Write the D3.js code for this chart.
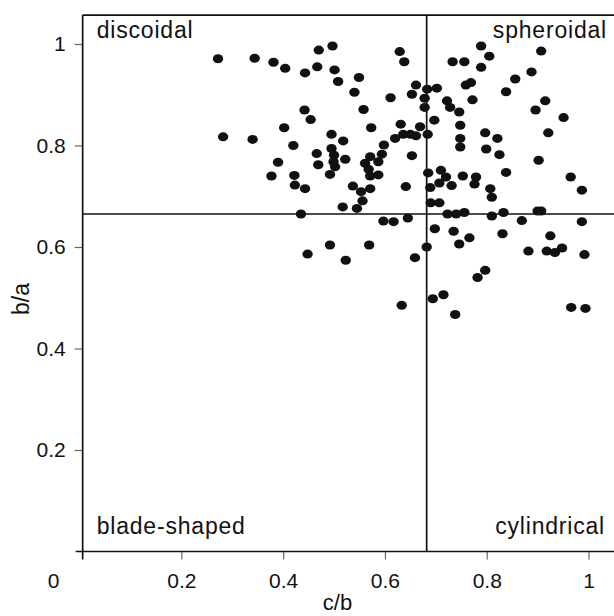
<!DOCTYPE html>
<html>
<head>
<meta charset="utf-8">
<script src="https://cdn.jsdelivr.net/npm/d3@7"></script>
<style>
  body { margin: 0; background: white; }
  text { font-family: "Liberation Sans", Arial, sans-serif; fill: #111; }
</style>
</head>
<body>
<div id="vizContainer"></div>
<script>
let w = 614;
let h = 616;

// c/b (x) and b/a (y) for each particle
let cb = [
  0.272, 0.344, 0.381, 0.404, 0.443, 0.467, 0.470, 0.442, 0.454, 0.402,
  0.282, 0.340, 0.420, 0.466, 0.390, 0.469, 0.377, 0.422, 0.497, 0.501,
  0.508, 0.549, 0.540, 0.629, 0.638, 0.611, 0.558, 0.661, 0.653, 0.683,
  0.678, 0.678, 0.573, 0.631, 0.669, 0.495, 0.518, 0.636, 0.650, 0.661,
  0.684, 0.620, 0.598, 0.495, 0.500, 0.522, 0.571, 0.594, 0.653, 0.499,
  0.502, 0.561, 0.587, 0.568, 0.492, 0.571, 0.587, 0.685, 0.423, 0.443,
  0.435, 0.448, 0.537, 0.553, 0.571, 0.641, 0.556, 0.517, 0.545, 0.597,
  0.617, 0.645, 0.492, 0.569, 0.523, 0.659, 0.633, 0.690, 0.707, 0.723,
  0.740, 0.756, 0.810, 0.833, 0.900, 0.907, 0.869, 0.987, 0.698, 0.735,
  0.831, 0.925, 0.766, 0.746, 0.682, 0.882, 0.918, 0.934, 0.948, 0.992,
  0.797, 0.782, 0.694, 0.715, 0.738, 0.966, 0.994, 0.789, 0.805, 0.907,
  0.733, 0.756, 0.789, 0.856, 0.888, 0.759, 0.769, 0.838, 0.772, 0.702,
  0.722, 0.728, 0.746, 0.915, 0.896, 0.951, 0.697, 0.748, 0.921, 0.797,
  0.821, 0.748, 0.748, 0.799, 0.825, 0.902, 0.838, 0.710, 0.720, 0.707,
  0.689, 0.731, 0.753, 0.779, 0.776, 0.807, 0.810, 0.965, 0.987
];
let ba = [
  0.971, 0.972, 0.964, 0.952, 0.943, 0.955, 0.988, 0.870, 0.851, 0.835,
  0.817, 0.812, 0.800, 0.784, 0.767, 0.762, 0.740, 0.741, 0.996, 0.949,
  0.926, 0.934, 0.905, 0.985, 0.965, 0.894, 0.871, 0.919, 0.901, 0.911,
  0.893, 0.875, 0.835, 0.842, 0.837, 0.822, 0.809, 0.822, 0.822, 0.819,
  0.822, 0.814, 0.801, 0.794, 0.781, 0.773, 0.778, 0.783, 0.780, 0.768,
  0.758, 0.765, 0.768, 0.753, 0.743, 0.740, 0.742, 0.746, 0.722, 0.715,
  0.665, 0.586, 0.720, 0.709, 0.715, 0.719, 0.691, 0.679, 0.676, 0.651,
  0.650, 0.657, 0.604, 0.604, 0.574, 0.579, 0.485, 0.687, 0.687, 0.665,
  0.665, 0.668, 0.661, 0.668, 0.671, 0.671, 0.652, 0.650, 0.636, 0.631,
  0.626, 0.622, 0.618, 0.606, 0.600, 0.592, 0.592, 0.589, 0.598, 0.585,
  0.554, 0.540, 0.498, 0.506, 0.467, 0.481, 0.479, 0.996, 0.976, 0.986,
  0.965, 0.965, 0.954, 0.931, 0.945, 0.919, 0.924, 0.906, 0.890, 0.913,
  0.888, 0.875, 0.866, 0.888, 0.870, 0.855, 0.850, 0.840, 0.825, 0.825,
  0.814, 0.814, 0.797, 0.793, 0.782, 0.771, 0.747, 0.751, 0.738, 0.726,
  0.717, 0.721, 0.740, 0.738, 0.724, 0.715, 0.698, 0.738, 0.712
];

let tickValues = [0.2, 0.4, 0.6, 0.8, 1];
let quadrantNames = ["discoidal", "spheroidal", "blade-shaped", "cylindrical"];
let xTitle = "c/b";
let yTitle = "b/a";

// class boundaries and the edges of the frame, in data units
let cbSplit = 0.682;
let baSplit = 0.665;
let frameLeft = 0.006;
let frameTop = 1.057;
let frameRight = 1.06;

let data = cb.map((d, i) => ({cb: d, ba: ba[i]}));

let viz = d3.select("#vizContainer").append("svg")
    .attr("width", w)
    .attr("height", h)
    .style("display", "block")
    .style("background-color", "white")
;

let xScale = d3.scaleLinear().domain([0, 1]).range([79.6, 588.5]);
let yScale = d3.scaleLinear().domain([0, 1]).range([551.5, 44]);

// axes
let xAxis = d3.axisBottom(xScale)
    .tickValues(tickValues)
    .tickSize(8)
    .tickPadding(13.5)
    .tickFormat(d3.format("~g"));
let xAxisGroup = viz.append("g")
    .attr("class", "xaxis")
    .attr("transform", "translate(0," + yScale(0) + ")")
    .call(xAxis);

let yAxis = d3.axisLeft(yScale)
    .tickValues(tickValues)
    .tickSize(8)
    .tickPadding(9)
    .tickFormat(d3.format("~g"));
let yAxisGroup = viz.append("g")
    .attr("class", "yaxis")
    .attr("transform", "translate(" + xScale(frameLeft) + ",0)")
    .call(yAxis);

viz.selectAll(".xaxis path, .yaxis path").attr("display", "none");
viz.selectAll(".xaxis line, .yaxis line")
    .attr("stroke", "#666")
    .attr("stroke-width", 1.2);
viz.selectAll(".xaxis text, .yaxis text")
    .style("font-size", "21px")
    .attr("fill", "#111");

// shared origin label
viz.append("text")
    .attr("x", 53.5)
    .attr("y", 587.5)
    .attr("text-anchor", "middle")
    .style("font-size", "21px")
    .text("0");

// frame and class boundaries
let lines = viz.append("g")
    .attr("stroke", "#111")
    .attr("stroke-width", 1.7)
    .attr("fill", "none");
lines.append("line")
    .attr("x1", xScale(frameLeft) - 7).attr("x2", xScale(frameRight))
    .attr("y1", yScale(0)).attr("y2", yScale(0));
lines.append("line")
    .attr("x1", xScale(frameLeft)).attr("x2", xScale(frameLeft))
    .attr("y1", yScale(frameTop)).attr("y2", yScale(0) + 8);
lines.append("line")
    .attr("x1", xScale(frameLeft)).attr("x2", xScale(frameRight))
    .attr("y1", yScale(frameTop)).attr("y2", yScale(frameTop));
lines.append("line")
    .attr("x1", xScale(cbSplit)).attr("x2", xScale(cbSplit))
    .attr("y1", yScale(frameTop)).attr("y2", yScale(0));
lines.append("line")
    .attr("x1", xScale(frameLeft)).attr("x2", xScale(frameRight))
    .attr("y1", yScale(baSplit)).attr("y2", yScale(baSplit));

// points
viz.append("g").attr("class", "points")
  .selectAll("ellipse")
  .data(data)
  .enter()
  .append("ellipse")
    .attr("cx", d => xScale(d.cb))
    .attr("cy", d => yScale(d.ba))
    .attr("rx", 5.2)
    .attr("ry", 4.5)
    .attr("fill", "#111")
;

// quadrant names
let labelPos = [
  {x: 96.7, y: 38, anchor: "start"},
  {x: 607, y: 38, anchor: "end"},
  {x: 96.7, y: 534, anchor: "start"},
  {x: 605, y: 534, anchor: "end"}
];
viz.append("g").selectAll("text")
  .data(quadrantNames)
  .enter()
  .append("text")
    .attr("x", (d, i) => labelPos[i].x)
    .attr("y", (d, i) => labelPos[i].y)
    .attr("text-anchor", (d, i) => labelPos[i].anchor)
    .style("font-size", "23px")
    .style("letter-spacing", "0.8px")
    .text(d => d)
;

// axis titles
viz.append("text")
    .attr("x", 337.5)
    .attr("y", 610)
    .attr("text-anchor", "middle")
    .style("font-size", "22px")
    .text(xTitle);
viz.append("text")
    .attr("transform", "translate(29,299) rotate(-90)")
    .attr("text-anchor", "middle")
    .style("font-size", "23px")
    .text(yTitle);
</script>
</body>
</html>
